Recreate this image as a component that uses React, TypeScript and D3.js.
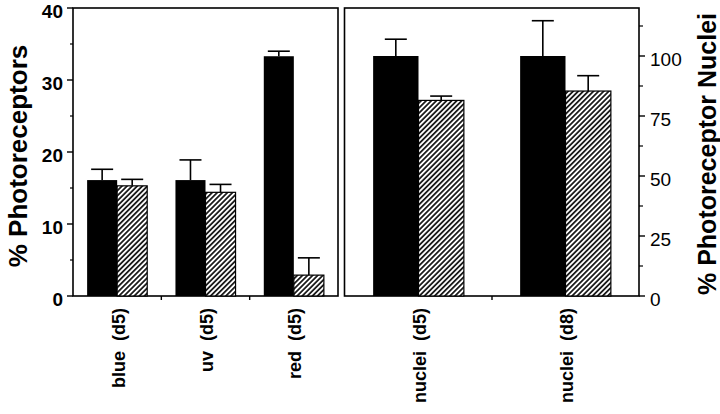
import React from "react";
import * as d3 from "d3";

const leftCategories = ["blue  (d5)", "uv  (d5)", "red  (d5)"];
const leftControl = [16.1, 16.1, 33.3];
const leftControlErr = [1.5, 2.8, 0.7];
const leftTreated = [15.3, 14.4, 2.9];
const leftTreatedErr = [0.9, 1.1, 2.4];

const rightCategories = ["nuclei  (d5)", "nuclei  (d8)"];
const rightControl = [100, 100];
const rightControlErr = [7, 14.7];
const rightTreated = [81.5, 85.4];
const rightTreatedErr = [1.8, 6.4];

const leftMajorTicks = [0, 10, 20, 30, 40];
const leftMinorTicks = [5, 15, 25, 35];
const rightMajorTicks = [0, 25, 50, 75, 100];
const rightMinorTicks = [12.5, 37.5, 62.5, 87.5, 112.5];

const W = 720;
const H = 414;
const TOP = 8;
const BASE = 296;
const FONT = "'Liberation Sans', Arial, Helvetica, sans-serif";

const yLeft = d3.scaleLinear().domain([0, 40]).range([BASE, TOP]);
const yRight = d3.scaleLinear().domain([0, 120]).range([BASE, TOP]);

const xLeft = d3.scaleBand<string>().domain(leftCategories).range([73, 338]);
const xLeftSub = d3
  .scaleBand<string>()
  .domain(["c", "t"])
  .range([0, xLeft.bandwidth()])
  .paddingInner(0)
  .paddingOuter(0.47);

const xRight = d3.scaleBand<string>().domain(rightCategories).range([345, 639]);
const xRightSub = d3
  .scaleBand<string>()
  .domain(["c", "t"])
  .range([0, xRight.bandwidth()])
  .paddingInner(0)
  .paddingOuter(0.62);

type PanelProps = {
  cats: string[];
  ctrl: number[];
  ctrlErr: number[];
  trt: number[];
  trtErr: number[];
  x: d3.ScaleBand<string>;
  sub: d3.ScaleBand<string>;
  y: d3.ScaleLinear<number, number>;
};

function Panel({ cats, ctrl, ctrlErr, trt, trtErr, x, sub, y }: PanelProps) {
  const cap = 11;
  return (
    <g>
      {cats.map((c, i) => {
        const x0 = x(c)! + sub("c")!;
        const x1 = x(c)! + sub("t")!;
        const bw = sub.bandwidth();
        const cx0 = x0 + bw / 2;
        const cx1 = x1 + bw / 2;
        const e0 = y(ctrl[i] + ctrlErr[i]);
        const e1 = y(trt[i] + trtErr[i]);
        return (
          <g key={c}>
            <line x1={cx0} x2={cx0} y1={y(ctrl[i])} y2={e0} stroke="#000" strokeWidth={1.6} />
            <line x1={cx0 - cap} x2={cx0 + cap} y1={e0} y2={e0} stroke="#000" strokeWidth={1.6} />
            <line x1={cx1} x2={cx1} y1={y(trt[i])} y2={e1} stroke="#000" strokeWidth={1.6} />
            <line x1={cx1 - cap} x2={cx1 + cap} y1={e1} y2={e1} stroke="#000" strokeWidth={1.6} />
            <rect x={x0} y={y(ctrl[i])} width={bw} height={y(0) - y(ctrl[i])} fill="#000" />
            <rect
              x={x1}
              y={y(trt[i])}
              width={bw}
              height={y(0) - y(trt[i])}
              fill="url(#hatch)"
              stroke="#000"
              strokeWidth={1.2}
            />
            <text
              transform={`translate(${x(c)! + x.bandwidth() / 2 + 1},308) rotate(-90)`}
              textAnchor="end"
              dy="0.36em"
              fontFamily={FONT}
              fontWeight="bold"
              fontSize={18}
              style={{ whiteSpace: "pre" }}
            >
              {c}
            </text>
          </g>
        );
      })}
      {cats.slice(1).map((c) => (
        <line key={"bt" + c} x1={x(c)!} x2={x(c)!} y1={BASE} y2={BASE + 4} stroke="#000" strokeWidth={1.4} />
      ))}
    </g>
  );
}

export default function App() {
  return (
    <svg
      width={W}
      height={H}
      viewBox={`0 0 ${W} ${H}`}
      style={{ position: "absolute", left: 0, top: 0, display: "block", background: "#fff" }}
    >
      <defs>
        <pattern id="hatch" patternUnits="userSpaceOnUse" width={3.6} height={3.6} patternTransform="rotate(45)">
          <rect width={3.6} height={3.6} fill="#fff" />
          <line x1={1.8} y1={0} x2={1.8} y2={3.6} stroke="#000" strokeWidth={1.6} />
        </pattern>
      </defs>
      <rect width={W} height={H} fill="#fff" />

      {/* Left panel frame */}
      <rect x={73} y={TOP} width={338 - 73} height={BASE - TOP} fill="none" stroke="#000" strokeWidth={1.6} />
      {/* Right panel frame */}
      <rect x={344.5} y={TOP} width={639 - 344.5} height={BASE - TOP} fill="none" stroke="#000" strokeWidth={1.6} />

      <Panel
        cats={leftCategories}
        ctrl={leftControl}
        ctrlErr={leftControlErr}
        trt={leftTreated}
        trtErr={leftTreatedErr}
        x={xLeft}
        sub={xLeftSub}
        y={yLeft}
      />
      <Panel
        cats={rightCategories}
        ctrl={rightControl}
        ctrlErr={rightControlErr}
        trt={rightTreated}
        trtErr={rightTreatedErr}
        x={xRight}
        sub={xRightSub}
        y={yRight}
      />

      {/* Left axis */}
      {leftMajorTicks.map((t) => (
        <g key={"lm" + t}>
          <line x1={67} x2={73} y1={yLeft(t)} y2={yLeft(t)} stroke="#000" strokeWidth={1.4} />
          <text
            x={63}
            y={yLeft(t)}
            dy="0.55em"
            textAnchor="end"
            fontFamily={FONT}
            fontWeight="bold"
            fontSize={19}
          >
            {t}
          </text>
        </g>
      ))}
      {leftMinorTicks.map((t) => (
        <line key={"ln" + t} x1={70} x2={73} y1={yLeft(t)} y2={yLeft(t)} stroke="#000" strokeWidth={1.2} />
      ))}

      {/* Right axis */}
      {rightMajorTicks.map((t) => (
        <g key={"rm" + t}>
          <line x1={639} x2={645} y1={yRight(t)} y2={yRight(t)} stroke="#000" strokeWidth={1.4} />
          <text x={650} y={yRight(t)} dy="0.5em" textAnchor="start" fontFamily={FONT} fontSize={19}>
            {t}
          </text>
        </g>
      ))}
      {rightMinorTicks.map((t) => (
        <line key={"rn" + t} x1={639} x2={643} y1={yRight(t)} y2={yRight(t)} stroke="#000" strokeWidth={1.2} />
      ))}

      {/* Axis titles */}
      <text
        transform="translate(27,156) rotate(-90)"
        textAnchor="middle"
        fontFamily={FONT}
        fontWeight="bold"
        fontSize={26}
      >
        % Photoreceptors
      </text>
      <text
        transform="translate(716,154) rotate(-90)"
        textAnchor="middle"
        fontFamily={FONT}
        fontWeight="bold"
        fontSize={25}
      >
        % Photoreceptor Nuclei
      </text>
    </svg>
  );
}
